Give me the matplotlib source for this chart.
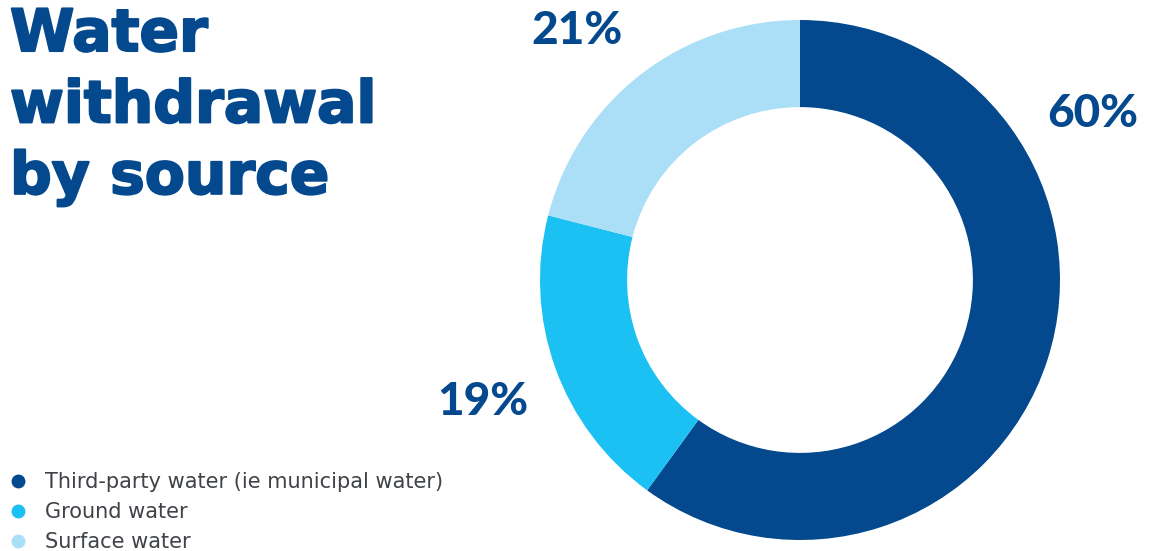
import matplotlib
matplotlib.use("Agg")
import matplotlib.pyplot as plt
import matplotlib.patheffects as pe
from matplotlib.lines import Line2D
import numpy as np

# data
sources = ["Third-party water (ie municipal water)", "Ground water", "Surface water"]
shares = [60, 19, 21]
pct_labels = ["60%", "19%", "21%"]
colors = ["#04488e", "#1bc1f2", "#abdff8"]

DARK = "#04488e"
W, H = 1152, 551

fig = plt.figure(figsize=(W / 100, H / 100), dpi=100)

# donut: centre (800, 280) px, radius 260 px
cx, cy, r = 800, 280, 260
ax = fig.add_axes([(cx - r) / W, (H - cy - r) / H, 2 * r / W, 2 * r / H])
wedges, _ = ax.pie(shares, colors=colors, startangle=90, counterclock=False,
                   radius=1, wedgeprops=dict(width=0.335, edgecolor="none"))
ax.set_xlim(-1, 1)
ax.set_ylim(-1, 1)
ax.set_aspect("equal")
ax.axis("off")

# percentage labels around the ring (angle in degrees, distance in radii)
label_pos = [(29.5, 1.295), (-158.9, 1.306), (131.8, 1.286)]
for txt, (ang, dist) in zip(pct_labels, label_pos):
    a = np.deg2rad(ang)
    ax.text(dist * np.cos(a), dist * np.sin(a), txt, ha="center", va="center",
            fontsize=33, fontweight="black", family="Lato", color=DARK,
            clip_on=False)

# title (thin stroke to make it look heavier)
fig.text(10 / W, 1 - 6 / H, "Water\nwithdrawal\nby source", ha="left", va="top",
         fontsize=42, fontweight="bold", family="DejaVu Sans", color=DARK,
         linespacing=1.32,
         path_effects=[pe.withStroke(linewidth=1.5, foreground=DARK)])

# legend with round markers
handles = [Line2D([], [], marker="o", linestyle="none", markersize=10,
                  markerfacecolor=c, markeredgecolor="none") for c in colors]
fig.legend(handles, sources, loc="upper left", bbox_to_anchor=(7.6 / W, 1 - 472 / H),
           frameon=False, prop=dict(family="DejaVu Sans", size=15),
           labelcolor="#3f4247", handletextpad=0.80, labelspacing=0.48,
           borderpad=0, borderaxespad=0, handlelength=1.0)

fig.savefig("out.png", dpi=100)
